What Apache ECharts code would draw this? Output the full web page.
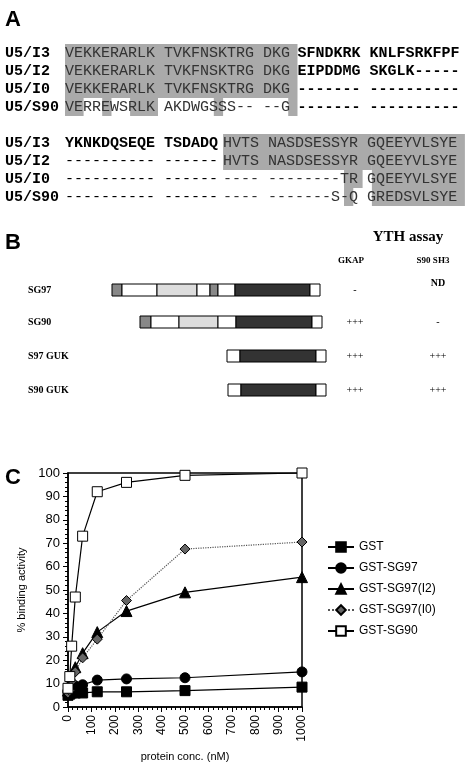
<!DOCTYPE html><html><head><meta charset="utf-8"><script src="https://cdn.jsdelivr.net/npm/echarts@6/dist/echarts.min.js"></script>
<style>html,body{margin:0;padding:0;background:#fff}#c{width:465px;height:769px}</style></head><body><div id="c"></div><script>
const conc=[0,7.8,15.6,31.25,62.5,125,250,500,1000];
const gst=[5,5.5,6,6,6,6.5,6.5,7,8.5];
const sg97=[7,7.5,8,9,9.5,11.5,12,12.5,15];
const sg97i2=[7,8,12,17,23,32,41,49,55.5];
const sg97i0=[6,7,11,15,21,29,45.5,67.5,70.5];
const sg90=[8,13,26,47,73,92,96,99,100];
const names=['GST','GST-SG97','GST-SG97(I2)','GST-SG97(I0)','GST-SG90'];
const xTicks=[0,100,200,300,400,500,600,700,800,900,1000];
const seqA=[['U5/I3','VEKKERARLK TVKFNSKTRG DKG','SFNDKRK KNLFSRKFPF'],['U5/I2','VEKKERARLK TVKFNSKTRG DKG','EIPDDMG SKGLK-----'],['U5/I0','VEKKERARLK TVKFNSKTRG DKG','------- ----------'],['U5/S90','VERREWSRLK AKDWGSSS-- --G','------- ----------']];
const seqB=[['U5/I3','YKNKDQSEQE TSDADQ','HVTS NASDSESSYR GQEEYVLSYE'],['U5/I2','---------- ------','HVTS NASDSESSYR GQEEYVLSYE'],['U5/I0','---------- ------','---- --------TR GQEEYVLSYE'],['U5/S90','---------- ------','---- -------S-Q GREDSVLSYE']];
const cw=9.3,x0=65;
const g=[];
function rect(x,y,w,h,fill,stroke){g.push({type:'rect',shape:{x,y,width:w,height:h},style:{fill,stroke:stroke||null,lineWidth:1},z:1});}
function txt(x,y,t,font,fill,align){g.push({type:'text',x,y,style:{text:t,font,fill:fill||'#000',align:align||'left',verticalAlign:'middle'},z:5});}
const rows1=[53,71,89,107],rows2=[143,161,179,197];
rect(x0,44,25*cw,54,'#aaa');
[[0,2],[4,1],[7,3],[16,1],[24,1]].forEach(([c,n])=>rect(x0+c*cw,98,n*cw,18,'#aaa'));
rect(x0+17*cw,134,16*cw,36,'#aaa');rect(x0+30*cw,170,2*cw,18,'#aaa');rect(x0+30*cw,188,cw,18,'#aaa');
rect(x0+33*cw,134,10*cw,72,'#aaa');
txt(5,20,'A','bold 22px "Liberation Sans"');
seqA.forEach((r,i)=>{txt(5,rows1[i],r[0],'bold 15px "Liberation Mono"');txt(x0,rows1[i],r[1],'15px "Liberation Mono"','#333');txt(x0+25*cw,rows1[i],r[2],'bold 15px "Liberation Mono"');});
seqB.forEach((r,i)=>{txt(5,rows2[i],r[0],'bold 15px "Liberation Mono"');txt(x0,rows2[i],r[1],(i==0?'bold ':'')+'15px "Liberation Mono"');txt(x0+17*cw,rows2[i],r[2],'15px "Liberation Mono"','#333');});
txt(5,243,'B','bold 22px "Liberation Sans"');
txt(408,237,'YTH assay','bold 15px "Liberation Serif"',null,'center');
txt(351,261,'GKAP','bold 9px "Liberation Serif"',null,'center');txt(433,261,'S90 SH3','bold 9px "Liberation Serif"',null,'center');
const constructs=[['SG97',290,[[112,10,'#888'],[122,35,'#fff'],[157,40,'dot'],[197,13,'#fff'],[210,8,'#888'],[218,17,'#fff'],[235,75,'#333'],[310,10,'#fff']],'-','ND'],
['SG90',322,[[140,11,'#888'],[151,28,'#fff'],[179,39,'dot'],[218,18,'#fff'],[236,76,'#333'],[312,10,'#fff']],'+++','-'],
['S97 GUK',356,[[227,13,'#fff'],[240,76,'#333'],[316,10,'#fff']],'+++','+++'],
['S90 GUK',390,[[228,13,'#fff'],[241,75,'#333'],[316,10,'#fff']],'+++','+++']];
constructs.forEach(([n,y,segs,a,b])=>{txt(28,y,n,'bold 10px "Liberation Serif"');
segs.forEach(([x,w,f])=>rect(x,y-6,w,12,f=='dot'?'#ddd':f,'#000'));
txt(355,y,a,'10px "Liberation Serif"',null,'center');txt(438,y-(b=='ND'?7:0),b,(b=='ND'?'bold ':'')+'10px "Liberation Serif"',null,'center');});
txt(5,478,'C','bold 22px "Liberation Sans"');
const mk=(name,data,sym,fill,lineColor,type)=>({name,type:'line',data:conc.map((c,i)=>[c,data[i]]),symbol:sym,symbolSize:sym=='triangle'?11:10,
 itemStyle:{color:fill,borderColor:'#000',borderWidth:1},lineStyle:{color:lineColor,width:1.2,type:type||'solid'},z:name=='GST-SG90'?3:2});
const chart=echarts.init(document.getElementById('c'));
chart.setOption({animation:false,graphic:g,
grid:{left:68,right:163,top:473,bottom:62,show:true,borderColor:'#000',borderWidth:1.5},
legend:{orient:'vertical',left:322,top:536,itemGap:9,itemWidth:26,itemHeight:12,textStyle:{fontFamily:'Liberation Sans',fontSize:12,color:'#000'},data:names},
xAxis:{type:'value',min:0,max:1000,interval:100,name:'protein conc. (nM)',nameLocation:'middle',nameGap:44,nameTextStyle:{fontFamily:'Liberation Sans',fontSize:11,color:'#000'},
 axisLine:{lineStyle:{color:'#000',width:1.5}},axisTick:{lineStyle:{color:'#000'}},minorTick:{show:true,splitNumber:5,length:3,lineStyle:{color:'#000'}},splitLine:{show:false},
 axisLabel:{rotate:90,fontFamily:'Liberation Sans',fontSize:12,color:'#000',formatter:v=>String(v)}},
yAxis:{type:'value',min:0,max:100,interval:10,name:'% binding activity',nameLocation:'middle',nameGap:36,nameTextStyle:{fontFamily:'Liberation Sans',fontSize:11,color:'#000'},
 axisLine:{show:true,lineStyle:{color:'#000',width:1.5}},axisTick:{show:true,lineStyle:{color:'#000'}},minorTick:{show:true,splitNumber:5,length:3,lineStyle:{color:'#000'}},splitLine:{show:false},
 axisLabel:{fontFamily:'Liberation Sans',fontSize:13,color:'#000'}},
series:[mk('GST',gst,'rect','#000','#000'),mk('GST-SG97',sg97,'circle','#000','#000'),mk('GST-SG97(I2)',sg97i2,'triangle','#000','#000'),
 mk('GST-SG97(I0)',sg97i0,'diamond','#666','#555','dotted'),mk('GST-SG90',sg90,'rect','#fff','#000')]});
</script></body></html>
